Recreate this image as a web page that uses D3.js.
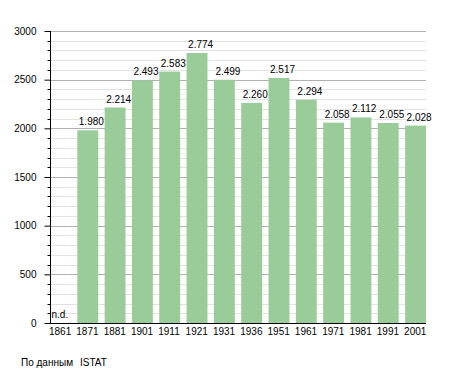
<!DOCTYPE html>
<html><head><meta charset="utf-8">
<script src="https://cdn.jsdelivr.net/npm/d3@7"></script>
<style>body{margin:0;background:#fff}svg{display:block}text{font-family:"Liberation Sans",Arial,sans-serif;font-size:10px;fill:#000}</style>
</head><body>
<script>
const years = ["1861","1871","1881","1901","1911","1921","1931","1936","1951","1961","1971","1981","1991","2001"];
const population = [null,1980,2214,2493,2583,2774,2499,2260,2517,2294,2058,2112,2055,2028];
const yTicks = [0,500,1000,1500,2000,2500,3000];
const sourceParts = ["По данным", "ISTAT"];
const missingLabel = "n.d.";

(function () {
const W = 455, H = 373;
const svg = d3.select("body").append("svg").attr("width", W).attr("height", H);
const pLeft = 50, pRight = 426, pTop = 31, pBottom = 323;

const x = d3.scaleBand().domain(years).range([pLeft, pRight]).paddingInner(0.235).paddingOuter(0);
const y = d3.scaleLinear().domain([0, 3000]).range([pBottom, pTop]);
const fmt = d3.formatLocale({decimal: ",", thousands: ".", grouping: [3], currency: ["", ""]}).format(",d");

// grid lines
const minor = d3.range(100, 3001, 100).filter(v => v % 500 !== 0);
svg.append("g").selectAll("line").data(minor).join("line")
  .attr("x1", pLeft).attr("x2", pRight)
  .attr("y1", d => Math.round(y(d)) + 0.5).attr("y2", d => Math.round(y(d)) + 0.5)
  .attr("stroke", "#e2e2e2").attr("stroke-width", 1);
svg.append("g").selectAll("line").data(yTicks.filter(v => v > 0)).join("line")
  .attr("x1", pLeft).attr("x2", pRight)
  .attr("y1", d => Math.round(y(d)) + 0.5).attr("y2", d => Math.round(y(d)) + 0.5)
  .attr("stroke", "#b0b0b0").attr("stroke-width", 1);

// bars
const data = years.map((yr, i) => ({yr, v: population[i]}));
svg.append("g").selectAll("rect").data(data.filter(d => d.v != null)).join("rect")
  .attr("x", d => x(d.yr)).attr("width", x.bandwidth())
  .attr("y", d => y(d.v)).attr("height", d => y(0) - y(d.v))
  .attr("fill", "#99cc99");

// value labels
svg.append("g").selectAll("text").data(data).join("text")
  .attr("x", d => x(d.yr) + 1.5)
  .attr("y", d => (d.v == null ? y(0) : y(d.v)) - 5)
  .text(d => d.v == null ? missingLabel : fmt(d.v));

// y axis
const yAxis = d3.axisLeft(y).tickValues(yTicks).tickSize(6).tickPadding(8).tickFormat(d3.format("d"));
const gy = svg.append("g").attr("transform", `translate(${pLeft + 0.5},0)`).call(yAxis);
gy.select(".domain").attr("stroke", "#000").attr("d", `M0,${pTop}V${pBottom}`);
gy.selectAll(".tick line").attr("stroke", "#000");
gy.selectAll(".tick text").attr("font-size", 10).attr("font-family", "Liberation Sans, Arial, sans-serif").attr("fill", "#000").attr("x", -14);
const minorTicks = d3.range(100, 3000, 100).filter(v => v % 500 !== 0);
gy.append("g").selectAll("line").data(minorTicks).join("line")
  .attr("x1", -3).attr("x2", 0)
  .attr("y1", d => Math.round(y(d)) + 0.5).attr("y2", d => Math.round(y(d)) + 0.5)
  .attr("stroke", "#000");

// x axis
svg.append("line").attr("x1", pLeft).attr("x2", pRight)
  .attr("y1", pBottom + 0.5).attr("y2", pBottom + 0.5).attr("stroke", "#000");
svg.append("g").selectAll("text").data(years).join("text")
  .attr("x", d => x(d) - 1).attr("y", pBottom + 11.5)
  .text(d => d);

// source
const src = svg.append("text").attr("y", 365.5);
src.append("tspan").attr("x", 21).text(sourceParts[0] + " ");
src.append("tspan").attr("x", 80).text(sourceParts[1]);
})();
</script>
</body></html>
